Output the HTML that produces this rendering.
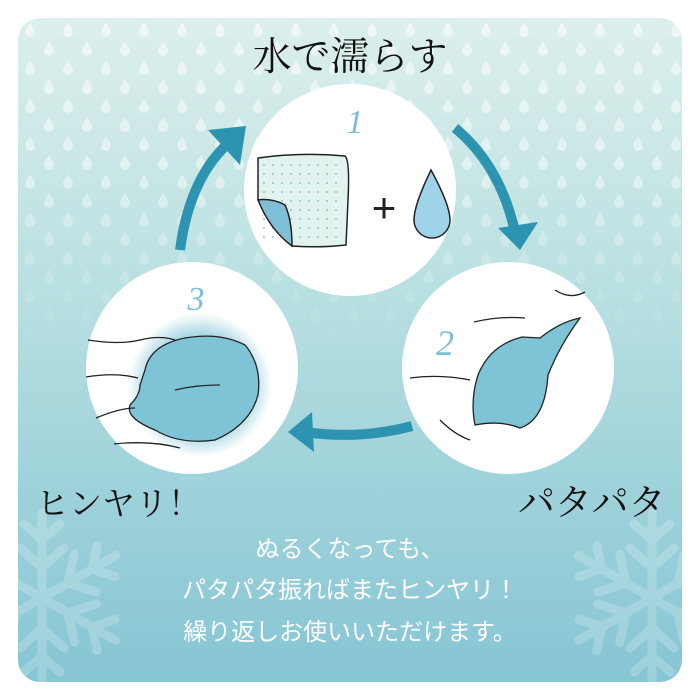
<!DOCTYPE html>
<html><head><meta charset="utf-8"><style>
html,body{margin:0;padding:0;background:#fff;width:700px;height:700px;overflow:hidden}
</style></head><body>
<svg width="700" height="700" viewBox="0 0 700 700" xmlns="http://www.w3.org/2000/svg">
<defs>
<linearGradient id="bg" x1="0" y1="0" x2="0" y2="1">
<stop offset="0" stop-color="#dcefec"/>
<stop offset="0.4" stop-color="#b9e0e1"/>
<stop offset="1" stop-color="#86c5d4"/>
</linearGradient>
<linearGradient id="fade" x1="0" y1="0" x2="0" y2="1">
<stop offset="0" stop-color="#fff" stop-opacity="1"/>
<stop offset="0.25" stop-color="#fff" stop-opacity="0.8"/>
<stop offset="0.5" stop-color="#fff" stop-opacity="0"/>
</linearGradient>
<mask id="m"><rect x="0" y="0" width="700" height="700" fill="url(#fade)"/></mask>
<pattern id="drops" x="22" y="20" width="38" height="38" patternUnits="userSpaceOnUse">
<path d="M8 2 C10 6 13 9 13 12 A5 5 0 0 1 3 12 C3 9 6 6 8 2Z" fill="#fff" opacity="0.55"/>
<path d="M27 21 C29 25 32 28 32 31 A5 5 0 0 1 22 31 C22 28 25 25 27 21Z" fill="#fff" opacity="0.55"/>
</pattern>
<clipPath id="card"><rect x="18" y="18" width="664" height="664" rx="22"/></clipPath>
<radialGradient id="glow"><stop offset="0.55" stop-color="#7fc3d6"/><stop offset="1" stop-color="#7fc3d6" stop-opacity="0"/></radialGradient>
<pattern id="dots" width="9" height="9" patternUnits="userSpaceOnUse"><circle cx="3" cy="3" r="1" fill="#8cc6cf"/></pattern>
<g id="flake" stroke="#fff" stroke-width="9" stroke-linecap="round" fill="none" opacity="0.2">
<g id="arm"><line x1="0" y1="0" x2="0" y2="-85"/><line x1="0" y1="-30" x2="-22" y2="-50"/><line x1="0" y1="-30" x2="22" y2="-50"/><line x1="0" y1="-58" x2="-18" y2="-74"/><line x1="0" y1="-58" x2="18" y2="-74"/></g>
<use href="#arm" transform="rotate(60)"/><use href="#arm" transform="rotate(120)"/><use href="#arm" transform="rotate(180)"/><use href="#arm" transform="rotate(240)"/><use href="#arm" transform="rotate(300)"/>
</g>
</defs>
<g clip-path="url(#card)">
<rect x="18" y="18" width="664" height="664" fill="url(#bg)"/>
<rect x="18" y="18" width="664" height="664" fill="url(#drops)" mask="url(#m)"/>
<use href="#flake" transform="translate(42,598)"/>
<use href="#flake" transform="translate(652,598)"/>
</g>
<g fill="none" stroke="#2c93b1" stroke-width="10">
<path d="M180 250 Q190 175 232 140"/>
<path d="M455 128 Q500 165 515 232"/>
<path d="M412 426 Q360 440 305 432"/>
</g>
<g fill="#2c93b1">
<polygon points="208,130 246,126 240,165"/>
<polygon points="498,228 538,222 520,250"/>
<polygon points="312,412 288,432 314,452"/>
</g>
<circle cx="350" cy="190" r="106" fill="#fff"/>
<circle cx="192" cy="368" r="106" fill="#fff"/>
<circle cx="508" cy="368" r="106" fill="#fff"/>
<text x="355" y="133" font-family="Liberation Serif,serif" font-style="italic" font-size="34" fill="#7cc0d3" text-anchor="middle">1</text>
<path d="M258 158 Q300 152 345 156 Q350 160 348 200 L346 245 Q320 248 292 246 L258 200Z" fill="#e2f3ef" stroke="#222" stroke-width="1.5"/>
<rect x="262" y="160" width="82" height="84" fill="url(#dots)"/>
<path d="M258 200 Q272 198 285 205 Q292 220 292 246 Q270 230 258 200Z" fill="#7fc0d6" stroke="#222" stroke-width="1.5"/>
<text x="384" y="222" font-family="Liberation Sans,sans-serif" font-size="42" fill="#222" text-anchor="middle">+</text>
<path d="M431 170 Q450 205 450 220 A17 17 0 0 1 414 220 Q414 205 431 170Z" fill="#9fd3e9" stroke="#222" stroke-width="1.5"/>
<text x="196" y="310" font-family="Liberation Serif,serif" font-style="italic" font-size="34" fill="#7cc0d3" text-anchor="middle">3</text>
<circle cx="200" cy="385" r="72" fill="url(#glow)"/>
<path d="M145 370 Q150 345 185 338 Q220 332 245 345 Q262 365 258 395 Q250 425 215 440 Q180 445 155 430 Q125 418 130 405 Q140 395 140 385Z" fill="#7fc3d6" stroke="#222" stroke-width="1.3"/>
<g fill="none" stroke="#222" stroke-width="1.3"><path d="M88 340 Q120 345 140 340 Q160 335 175 340"/><path d="M86 377 Q115 372 138 378"/><path d="M96 418 Q120 408 135 408"/><path d="M114 444 Q150 440 180 448"/><path d="M175 390 Q195 385 220 385"/></g>
<text x="445" y="355" font-family="Liberation Serif,serif" font-style="italic" font-size="36" fill="#7cc0d3" text-anchor="middle">2</text>
<path d="M522 337 Q490 345 478 375 Q470 400 475 425 Q500 420 520 428 Q545 420 548 375 Q560 345 580 318 Q560 322 540 338Z" fill="#7fc3d6" stroke="#222" stroke-width="1.3"/>
<g fill="none" stroke="#222" stroke-width="1.3"><path d="M474 322 Q500 316 525 318"/><path d="M410 378 Q440 374 470 380"/><path d="M440 420 Q455 435 470 440"/><path d="M555 290 Q570 300 585 292"/></g>
<text x="350" y="70" font-family="Liberation Serif,'Noto Serif CJK SC',serif" font-size="39" fill="#111" text-anchor="middle">水で濡らす</text>
<text x="36" y="515" font-family="Liberation Serif,'Noto Serif CJK SC',serif" font-size="33" fill="#111">ヒンヤリ！</text>
<text x="518" y="515" font-family="Liberation Serif,'Noto Serif CJK SC',serif" font-size="37" fill="#111">パタパタ</text>
<g font-family="Liberation Sans,'Noto Sans CJK JP',sans-serif" font-size="24" fill="#fff" text-anchor="middle">
<text x="350" y="557">ぬるくなっても、</text>
<text x="350" y="598">パタパタ振ればまたヒンヤリ！</text>
<text x="350" y="640">繰り返しお使いいただけます。</text>
</g>
</svg>
</body></html>
